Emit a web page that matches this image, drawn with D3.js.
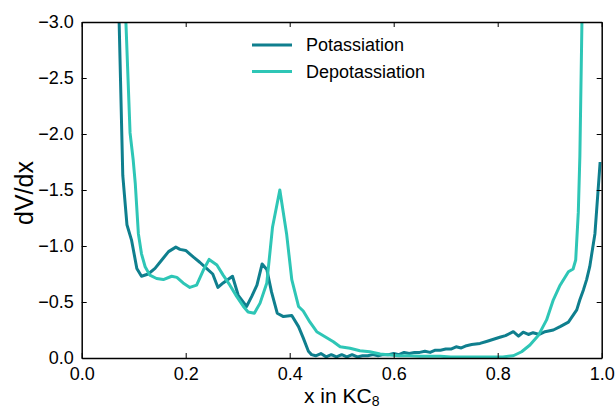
<!DOCTYPE html>
<html>
<head>
<meta charset="utf-8">
<script src="https://cdn.jsdelivr.net/npm/d3@7"></script>
<style>
  body { margin: 0; background: #fff; }
  svg { font-family: "Liberation Sans", Arial, sans-serif; }
</style>
</head>
<body>
<svg width="615" height="409"></svg>
<script>
// Potassiation (dark teal)
var potX = [0.068, 0.072, 0.079, 0.087, 0.096, 0.106, 0.115, 0.128, 0.141, 0.154, 0.167, 0.181, 0.189, 0.2, 0.215, 0.227, 0.24, 0.252, 0.262, 0.272, 0.29, 0.301, 0.317, 0.327, 0.337, 0.347, 0.356, 0.365, 0.376, 0.388, 0.404, 0.417, 0.426, 0.436, 0.442, 0.45, 0.46, 0.47, 0.48, 0.49, 0.50, 0.51, 0.52, 0.53, 0.54, 0.55, 0.56, 0.57, 0.58, 0.59, 0.60, 0.61, 0.62, 0.63, 0.64, 0.65, 0.66, 0.67, 0.68, 0.69, 0.70, 0.71, 0.72, 0.73, 0.74, 0.75, 0.766, 0.78, 0.804, 0.815, 0.83, 0.84, 0.849, 0.859, 0.868, 0.88, 0.891, 0.907, 0.92, 0.936, 0.952, 0.958, 0.965, 0.971, 0.977, 0.987, 0.997];
var potY = [-4.5, -3.0, -1.63, -1.19, -1.05, -0.80, -0.73, -0.75, -0.80, -0.875, -0.95, -0.99, -0.97, -0.96, -0.90, -0.855, -0.80, -0.75, -0.63, -0.67, -0.73, -0.56, -0.46, -0.55, -0.65, -0.84, -0.79, -0.59, -0.40, -0.37, -0.38, -0.28, -0.18, -0.06, -0.03, -0.02, -0.04, -0.01, -0.03, -0.01, -0.03, -0.01, -0.03, -0.01, -0.02, -0.02, -0.03, -0.02, -0.03, -0.03, -0.04, -0.03, -0.05, -0.04, -0.05, -0.05, -0.06, -0.05, -0.07, -0.07, -0.08, -0.08, -0.10, -0.09, -0.11, -0.12, -0.13, -0.15, -0.185, -0.20, -0.235, -0.195, -0.23, -0.21, -0.226, -0.21, -0.235, -0.25, -0.28, -0.32, -0.43, -0.52, -0.61, -0.70, -0.815, -1.11, -1.75];

// Depotassiation (light turquoise)
var depX = [0.082, 0.085, 0.093, 0.099, 0.103, 0.109, 0.115, 0.122, 0.131, 0.144, 0.157, 0.173, 0.183, 0.195, 0.208, 0.221, 0.234, 0.245, 0.26, 0.272, 0.285, 0.298, 0.311, 0.32, 0.332, 0.343, 0.356, 0.367, 0.381, 0.394, 0.404, 0.417, 0.426, 0.439, 0.452, 0.468, 0.484, 0.497, 0.516, 0.535, 0.554, 0.574, 0.593, 0.61, 0.63, 0.65, 0.67, 0.69, 0.71, 0.73, 0.75, 0.77, 0.79, 0.81, 0.83, 0.846, 0.862, 0.878, 0.894, 0.907, 0.92, 0.936, 0.945, 0.95, 0.955, 0.958, 0.962, 0.966];
var depY = [-4.5, -3.0, -2.01, -1.77, -1.56, -1.11, -0.93, -0.815, -0.74, -0.71, -0.70, -0.73, -0.72, -0.67, -0.63, -0.65, -0.785, -0.88, -0.83, -0.74, -0.65, -0.55, -0.46, -0.41, -0.40, -0.49, -0.67, -1.17, -1.50, -1.11, -0.70, -0.46, -0.42, -0.32, -0.235, -0.19, -0.145, -0.10, -0.087, -0.065, -0.056, -0.036, -0.027, -0.02, -0.02, -0.015, -0.015, -0.015, -0.01, -0.01, -0.01, -0.01, -0.01, -0.01, -0.02, -0.056, -0.116, -0.20, -0.34, -0.52, -0.65, -0.77, -0.795, -0.875, -1.3, -1.8, -3.0, -4.5];

var seriesNames = ["Potassiation", "Depotassiation"];
var seriesColors = ["#0f7f8e", "#2ec6b6"];
var xTicks = [0.0, 0.2, 0.4, 0.6, 0.8, 1.0];
var yTicks = [0.0, -0.5, -1.0, -1.5, -2.0, -2.5, -3.0];

// plot box in pixels
var pL = 81.7, pR = 601.7, pT = 22, pB = 358;

var svg = d3.select("svg");

var x = d3.scaleLinear().domain([0, 1]).range([pL, pR]);
var y = d3.scaleLinear().domain([0, -3]).range([pB, pT]);

// clip lines to the plot area
svg.append("clipPath").attr("id", "clip")
  .append("rect")
    .attr("x", pL).attr("y", pT)
    .attr("width", pR - pL).attr("height", pB - pT);

var line = d3.line()
  .x(function(d) { return x(d[0]); })
  .y(function(d) { return y(d[1]); });

var data = [d3.zip(potX, potY), d3.zip(depX, depY)];

svg.append("g").attr("clip-path", "url(#clip)")
  .selectAll("path")
  .data(data)
  .enter().append("path")
    .attr("d", line)
    .attr("fill", "none")
    .attr("stroke", function(d, i) { return seriesColors[i]; })
    .attr("stroke-width", 3)
    .attr("stroke-linejoin", "round");

// axes, ticks pointing inward on all sides
var fmt = function(d) { return d3.format(".1f")(d).replace("-", "\u2212"); };

var gx = svg.append("g")
  .attr("transform", "translate(0," + pB + ")")
  .call(d3.axisBottom(x).tickValues(xTicks).tickFormat(fmt).tickSizeInner(-5).tickSizeOuter(0).tickPadding(9));
var gy = svg.append("g")
  .attr("transform", "translate(" + pL + ",0)")
  .call(d3.axisLeft(y).tickValues(yTicks).tickFormat(fmt).tickSizeInner(-5).tickSizeOuter(0).tickPadding(8));
var gt = svg.append("g")
  .attr("transform", "translate(0," + pT + ")")
  .call(d3.axisTop(x).tickValues(xTicks).tickFormat("").tickSizeInner(-5).tickSizeOuter(0));
var gr = svg.append("g")
  .attr("transform", "translate(" + pR + ",0)")
  .call(d3.axisRight(y).tickValues(yTicks).tickFormat("").tickSizeInner(-5).tickSizeOuter(0));

[gx, gy, gt, gr].forEach(function(g) {
  g.select(".domain").attr("stroke", "#000").attr("stroke-width", 1.5);
  g.selectAll(".tick line").attr("stroke", "#000").attr("stroke-width", 1);
  g.selectAll("text").attr("font-family", "Liberation Sans, Arial, sans-serif")
    .attr("font-size", "18px").attr("fill", "#000");
});

// axis labels
var xl = svg.append("text")
  .attr("x", (pL + pR) / 2)
  .attr("y", 403)
  .attr("text-anchor", "middle")
  .attr("font-size", "21px");
xl.append("tspan").text("x in KC");
xl.append("tspan").attr("font-size", "14px").attr("dy", 3).text("8");

svg.append("text")
  .attr("transform", "translate(33,193) rotate(-90)")
  .attr("text-anchor", "middle")
  .attr("font-size", "25px")
  .text("dV/dx");

// legend
var legend = svg.append("g").selectAll("g")
  .data(seriesNames)
  .enter().append("g")
    .attr("transform", function(d, i) { return "translate(252," + (45 + i * 26.5) + ")"; });
legend.append("line")
  .attr("x1", 0).attr("x2", 40)
  .attr("stroke", function(d, i) { return seriesColors[i]; })
  .attr("stroke-width", 3);
legend.append("text")
  .attr("x", 54).attr("dy", "0.35em")
  .attr("font-size", "18px")
  .text(function(d) { return d; });
</script>
</body>
</html>
